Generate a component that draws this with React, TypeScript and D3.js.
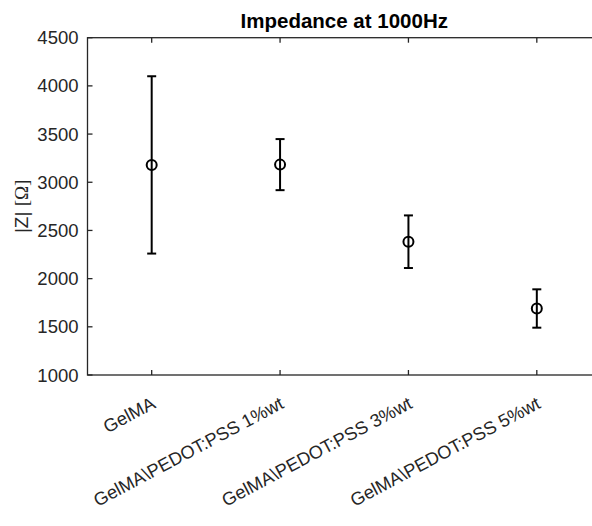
import React from "react";
import * as d3 from "d3";

const categories = [
  "GelMA",
  "GelMA\\PEDOT:PSS 1%wt",
  "GelMA\\PEDOT:PSS 3%wt",
  "GelMA\\PEDOT:PSS 5%wt",
];
const means = [3180, 3183, 2383, 1690];
const errors = [920, 265, 273, 199];
const yTicks = [1000, 1500, 2000, 2500, 3000, 3500, 4000, 4500];
const title = "Impedance at 1000Hz";

const W = 592;
const H = 526;
const left = 87.5;
const right = 601;
const top = 37.7;
const bottom = 375;

export default function App() {
  const x = d3.scaleLinear().domain([0.5, 4.5]).range([left, right]);
  const y = d3.scaleLinear().domain([1000, 4500]).range([bottom, top]);
  const axisColor = "#262626";
  const font = "'Liberation Sans', Arial, Helvetica, sans-serif";
  const tickLen = 5;
  const cap = 4.5;
  return (
    <svg
      width={W}
      height={H}
      style={{ position: "absolute", left: 0, top: 0, background: "#fff" }}
      fontFamily={font}
    >
      <rect x={0} y={0} width={W} height={H} fill="#fff" />
      {/* box */}
      <rect
        x={left}
        y={top}
        width={right - left}
        height={bottom - top}
        fill="none"
        stroke={axisColor}
        strokeWidth={1.3}
      />
      {/* y ticks */}
      {yTicks.map((t) => (
        <g key={t}>
          <line x1={left} x2={left + tickLen} y1={y(t)} y2={y(t)} stroke={axisColor} strokeWidth={1.3} />
          <line x1={right} x2={right - tickLen} y1={y(t)} y2={y(t)} stroke={axisColor} strokeWidth={1.3} />
          <text
            x={left - 9}
            y={y(t)}
            textAnchor="end"
            dominantBaseline="central"
            fontSize={18.5}
            fill={axisColor}
          >
            {t}
          </text>
        </g>
      ))}
      {/* x ticks */}
      {categories.map((c, i) => {
        const cx = x(i + 1);
        return (
          <g key={c}>
            <line x1={cx} x2={cx} y1={bottom} y2={bottom - tickLen} stroke={axisColor} strokeWidth={1.3} />
            <line x1={cx} x2={cx} y1={top} y2={top + tickLen} stroke={axisColor} strokeWidth={1.3} />
            <text
              transform={`translate(${cx - 1},${bottom + 21}) rotate(-28)`}
              textAnchor="end"
              dominantBaseline="hanging"
              fontSize={18.2}
              fill={axisColor}
            >
              {c}
            </text>
          </g>
        );
      })}
      {/* error bars */}
      {means.map((m, i) => {
        const cx = x(i + 1);
        const yt = y(m + errors[i]);
        const yb = y(m - errors[i]);
        const ym = y(m);
        return (
          <g key={i} stroke="#000" strokeWidth={2} fill="none">
            <line x1={cx} x2={cx} y1={yt} y2={ym - 5} />
            <line x1={cx} x2={cx} y1={ym + 5} y2={yb} />
            <line x1={cx - cap} x2={cx + cap} y1={yt} y2={yt} />
            <line x1={cx - cap} x2={cx + cap} y1={yb} y2={yb} />
            <circle cx={cx} cy={ym} r={5} />
            <line x1={cx} x2={cx} y1={ym - 5} y2={ym + 5} />
          </g>
        );
      })}
      {/* title */}
      <text
        x={(left + right) / 2}
        y={28}
        textAnchor="middle"
        fontWeight="bold"
        fontSize={20.5}
        fill="#000"
      >
        {title}
      </text>
      {/* y label */}
      <text
        transform={`translate(28,${(top + bottom) / 2}) rotate(-90)`}
        textAnchor="middle"
        fontSize={19}
        fill={axisColor}
      >
        <tspan>|Z| </tspan>
        <tspan fontFamily="'Liberation Serif', 'DejaVu Serif', serif">[Ω]</tspan>
      </text>
    </svg>
  );
}
